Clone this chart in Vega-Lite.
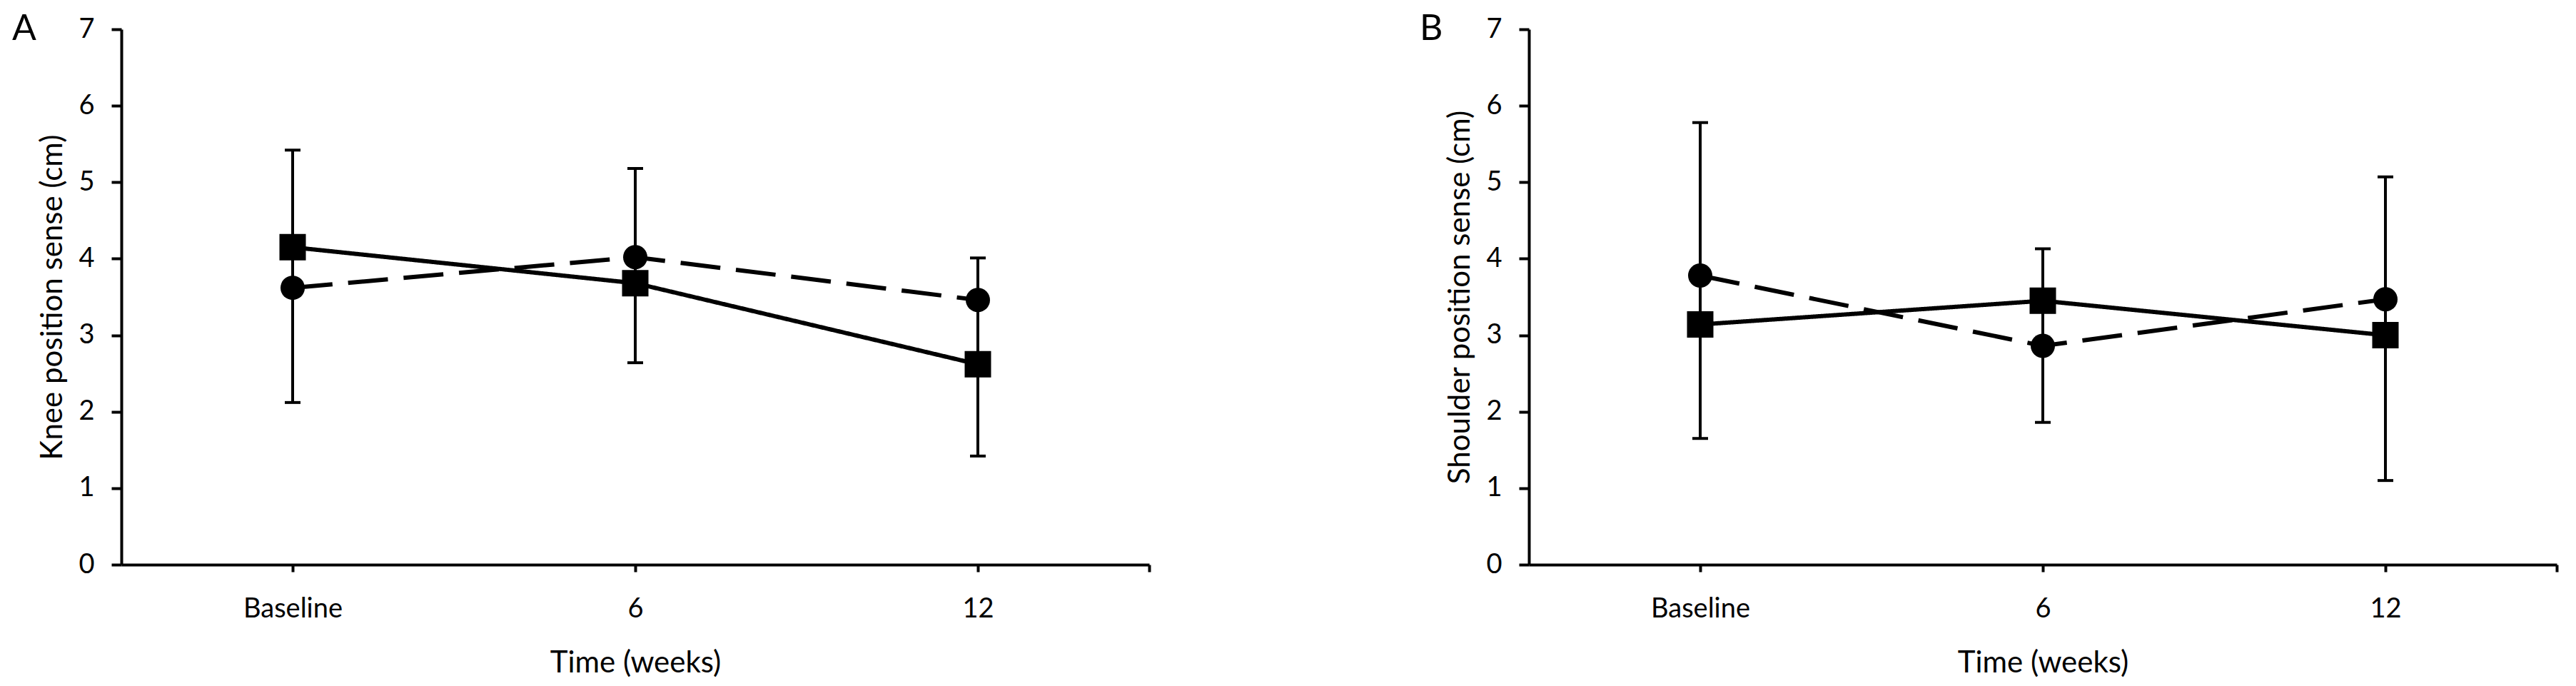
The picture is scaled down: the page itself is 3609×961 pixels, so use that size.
{
  "$schema": "https://vega.github.io/schema/vega-lite/v6.json",
  "background": "white",
  "padding": {"left": 17, "top": 16, "right": 27, "bottom": 5},
  "bounds": "flush",
  "spacing": 532,
  "datasets": {
    "means": [
      {"panel": "A", "group": "Group 1", "week": 0, "value": 4.15},
      {"panel": "A", "group": "Group 1", "week": 6, "value": 3.68},
      {"panel": "A", "group": "Group 1", "week": 12, "value": 2.62},
      {"panel": "A", "group": "Group 2", "week": 0, "value": 3.62},
      {"panel": "A", "group": "Group 2", "week": 6, "value": 4.02},
      {"panel": "A", "group": "Group 2", "week": 12, "value": 3.46},
      {"panel": "B", "group": "Group 1", "week": 0, "value": 3.14},
      {"panel": "B", "group": "Group 1", "week": 6, "value": 3.45},
      {"panel": "B", "group": "Group 1", "week": 12, "value": 3.0},
      {"panel": "B", "group": "Group 2", "week": 0, "value": 3.78},
      {"panel": "B", "group": "Group 2", "week": 6, "value": 2.86},
      {"panel": "B", "group": "Group 2", "week": 12, "value": 3.47}
    ],
    "errors": [
      {"panel": "A", "week": 0, "low": 2.12, "high": 5.42},
      {"panel": "A", "week": 6, "low": 2.64, "high": 5.18},
      {"panel": "A", "week": 12, "low": 1.42, "high": 4.01},
      {"panel": "B", "week": 0, "low": 1.65, "high": 5.78},
      {"panel": "B", "week": 6, "low": 1.86, "high": 4.13},
      {"panel": "B", "week": 12, "low": 1.10, "high": 5.07}
    ]
  },
  "config": {
    "view": {"stroke": null},
    "font": "Lato",
    "title": {"font": "Lato", "fontSize": 50, "fontWeight": "normal", "color": "black", "anchor": "start", "frame": "group", "baseline": "top", "dx": -153, "offset": -44},
    "axis": {
      "grid": false,
      "domainColor": "black", "domainWidth": 4,
      "tickColor": "black", "tickWidth": 4,
      "labelColor": "black", "titleColor": "black",
      "labelFont": "Lato", "titleFont": "Lato",
      "labelFontSize": 38, "titleFontSize": 42, "titleFontWeight": "normal"
    },
    "axisX": {"tickSize": 10, "labelPadding": 33, "titlePadding": 36},
    "axisY": {"tickSize": 14, "labelPadding": 24, "titlePadding": 14, "format": "d"}
  },
  "hconcat": [
    {
      "title": {"text": "A"},
      "width": 1440, "height": 750,
      "layer": [
        {
          "data": {"name": "errors"},
          "transform": [{"filter": "datum.panel === 'A'"}],
          "mark": {"type": "rule", "color": "black", "strokeWidth": 4},
          "encoding": {
            "x": {"field": "week", "type": "quantitative", "scale": {"domain": [-3, 15], "nice": false, "zero": false},
                  "axis": {"title": "Time (weeks)", "values": [0, 6, 12, 15], "labelExpr": "datum.value === 0 ? 'Baseline' : datum.value === 15 ? '' : format(datum.value, 'd')"}},
            "y": {"field": "low", "type": "quantitative", "scale": {"domain": [0, 7], "nice": false},
                  "axis": {"title": "Knee position sense (cm)", "values": [0, 1, 2, 3, 4, 5, 6, 7]}},
            "y2": {"field": "high"}
          }
        },
        {
          "data": {"name": "errors"},
          "transform": [{"filter": "datum.panel === 'A'"}],
          "mark": {"type": "tick", "orient": "horizontal", "color": "black", "size": 22, "thickness": 4, "opacity": 1},
          "encoding": {
            "x": {"field": "week", "type": "quantitative"},
            "y": {"field": "low", "type": "quantitative"}
          }
        },
        {
          "data": {"name": "errors"},
          "transform": [{"filter": "datum.panel === 'A'"}],
          "mark": {"type": "tick", "orient": "horizontal", "color": "black", "size": 22, "thickness": 4, "opacity": 1},
          "encoding": {
            "x": {"field": "week", "type": "quantitative"},
            "y": {"field": "high", "type": "quantitative"}
          }
        },
        {
          "data": {"name": "means"},
          "transform": [{"filter": "datum.panel === 'A'"}],
          "mark": {"type": "line", "color": "black", "strokeWidth": 6},
          "encoding": {
            "x": {"field": "week", "type": "quantitative"},
            "y": {"field": "value", "type": "quantitative"},
            "detail": {"field": "group"},
            "strokeDash": {"field": "group", "type": "nominal", "scale": {"domain": ["Group 1", "Group 2"], "range": [[1, 0], [56, 22]]}, "legend": null}
          }
        },
        {
          "data": {"name": "means"},
          "transform": [{"filter": "datum.panel === 'A'"}],
          "mark": {"type": "point", "filled": true, "color": "black", "opacity": 1},
          "encoding": {
            "x": {"field": "week", "type": "quantitative"},
            "y": {"field": "value", "type": "quantitative"},
            "shape": {"field": "group", "type": "nominal", "scale": {"domain": ["Group 1", "Group 2"], "range": ["square", "circle"]}, "legend": null},
            "size": {"field": "group", "type": "nominal", "scale": {"domain": ["Group 1", "Group 2"], "range": [1369, 1156]}, "legend": null}
          }
        }
      ]
    },
    {
      "title": {"text": "B"},
      "width": 1440, "height": 750,
      "layer": [
        {
          "data": {"name": "errors"},
          "transform": [{"filter": "datum.panel === 'B'"}],
          "mark": {"type": "rule", "color": "black", "strokeWidth": 4},
          "encoding": {
            "x": {"field": "week", "type": "quantitative", "scale": {"domain": [-3, 15], "nice": false, "zero": false},
                  "axis": {"title": "Time (weeks)", "values": [0, 6, 12, 15], "labelExpr": "datum.value === 0 ? 'Baseline' : datum.value === 15 ? '' : format(datum.value, 'd')"}},
            "y": {"field": "low", "type": "quantitative", "scale": {"domain": [0, 7], "nice": false},
                  "axis": {"title": "Shoulder position sense (cm)", "values": [0, 1, 2, 3, 4, 5, 6, 7]}},
            "y2": {"field": "high"}
          }
        },
        {
          "data": {"name": "errors"},
          "transform": [{"filter": "datum.panel === 'B'"}],
          "mark": {"type": "tick", "orient": "horizontal", "color": "black", "size": 22, "thickness": 4, "opacity": 1},
          "encoding": {
            "x": {"field": "week", "type": "quantitative"},
            "y": {"field": "low", "type": "quantitative"}
          }
        },
        {
          "data": {"name": "errors"},
          "transform": [{"filter": "datum.panel === 'B'"}],
          "mark": {"type": "tick", "orient": "horizontal", "color": "black", "size": 22, "thickness": 4, "opacity": 1},
          "encoding": {
            "x": {"field": "week", "type": "quantitative"},
            "y": {"field": "high", "type": "quantitative"}
          }
        },
        {
          "data": {"name": "means"},
          "transform": [{"filter": "datum.panel === 'B'"}],
          "mark": {"type": "line", "color": "black", "strokeWidth": 6},
          "encoding": {
            "x": {"field": "week", "type": "quantitative"},
            "y": {"field": "value", "type": "quantitative"},
            "detail": {"field": "group"},
            "strokeDash": {"field": "group", "type": "nominal", "scale": {"domain": ["Group 1", "Group 2"], "range": [[1, 0], [56, 22]]}, "legend": null}
          }
        },
        {
          "data": {"name": "means"},
          "transform": [{"filter": "datum.panel === 'B'"}],
          "mark": {"type": "point", "filled": true, "color": "black", "opacity": 1},
          "encoding": {
            "x": {"field": "week", "type": "quantitative"},
            "y": {"field": "value", "type": "quantitative"},
            "shape": {"field": "group", "type": "nominal", "scale": {"domain": ["Group 1", "Group 2"], "range": ["square", "circle"]}, "legend": null},
            "size": {"field": "group", "type": "nominal", "scale": {"domain": ["Group 1", "Group 2"], "range": [1369, 1156]}, "legend": null}
          }
        }
      ]
    }
  ]
}
